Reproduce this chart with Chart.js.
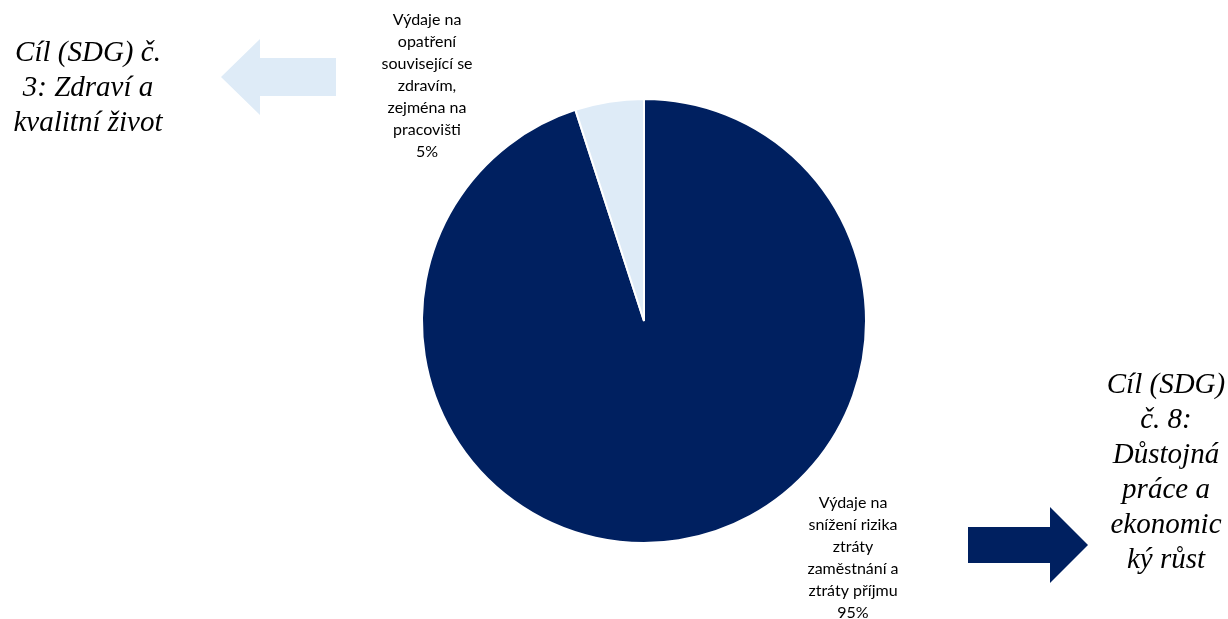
<!DOCTYPE html>
<html lang="cs">
<head>
<meta charset="utf-8">
<title>Výdaje</title>
<script src="https://cdn.jsdelivr.net/npm/chart.js@4/dist/chart.umd.min.js"></script>
<style>
  html, body { margin: 0; padding: 0; background: #fff; }
  #wrap { position: relative; width: 1228px; height: 619px; overflow: hidden; }
  #chart { position: absolute; left: 0; top: 0; }
  .goal {
    position: absolute;
    font-family: "Liberation Serif", "Times New Roman", serif;
    font-style: italic;
    font-size: 29px;
    line-height: 35px;
    text-align: center;
    color: #000;
  }
  #goal3 { left: 0; top: 34px; width: 176px; }
  #goal8 { left: 1098px; top: 366px; width: 136px; }
</style>
</head>
<body>
<div id="wrap">
  <canvas id="chart" width="1228" height="619"></canvas>
  <div class="goal" id="goal3">Cíl (SDG) č.<br>3: Zdraví a<br>kvalitní život</div>
  <div class="goal" id="goal8">Cíl (SDG)<br>č. 8:<br>Důstojná<br>práce a<br>ekonomic<br>ký růst</div>
</div>
<script>
// Podíly výdajů
const categories = [
  ['Výdaje na', 'snížení rizika', 'ztráty', 'zaměstnání a', 'ztráty příjmu'],
  ['Výdaje na', 'opatření', 'související se', 'zdravím,', 'zejména na', 'pracovišti']
];
const shares = [95, 5];
const sliceColors = ['#002060', '#DEEBF7'];

// where each label block sits (centre x, first line y)
const labelSpots = [
  { x: 853, y: 503 },
  { x: 427, y: 20 }
];

// arrows next to the goal texts
const arrows = [
  { color: '#DEEBF7', dir: -1, tip: 221, base: 260, end: 336, cy: 77, half: 19, headHalf: 38 },
  { color: '#002060', dir: 1, tip: 1088, base: 1050, end: 968, cy: 545, half: 18, headHalf: 38 }
];

const extras = {
  id: 'extras',
  afterDraw(chart) {
    const ctx = chart.ctx;
    ctx.save();

    // arrows
    arrows.forEach(a => {
      ctx.fillStyle = a.color;
      ctx.beginPath();
      ctx.moveTo(a.end, a.cy - a.half);
      ctx.lineTo(a.base, a.cy - a.half);
      ctx.lineTo(a.base, a.cy - a.headHalf);
      ctx.lineTo(a.tip, a.cy);
      ctx.lineTo(a.base, a.cy + a.headHalf);
      ctx.lineTo(a.base, a.cy + a.half);
      ctx.lineTo(a.end, a.cy + a.half);
      ctx.closePath();
      ctx.fill();
    });

    // data labels
    ctx.fillStyle = '#000';
    ctx.font = '16px Lato, "Open Sans", sans-serif';
    ctx.textAlign = 'center';
    ctx.textBaseline = 'middle';
    const data = chart.data.datasets[0].data;
    chart.data.labels.forEach((lines, i) => {
      const spot = labelSpots[i];
      const all = lines.concat([data[i] + '%']);
      all.forEach((t, k) => ctx.fillText(t, spot.x, spot.y + k * 22));
    });
    ctx.restore();
  }
};

new Chart(document.getElementById('chart'), {
  type: 'pie',
  data: {
    labels: categories,
    datasets: [{
      data: shares,
      backgroundColor: sliceColors,
      borderColor: '#ffffff',
      borderWidth: 2
    }]
  },
  options: {
    responsive: false,
    animation: false,
    layout: { padding: { left: 421, right: 361, top: 98, bottom: 75 } },
    plugins: {
      legend: { display: false },
      tooltip: { enabled: false }
    }
  },
  plugins: [extras]
});
</script>
</body>
</html>
